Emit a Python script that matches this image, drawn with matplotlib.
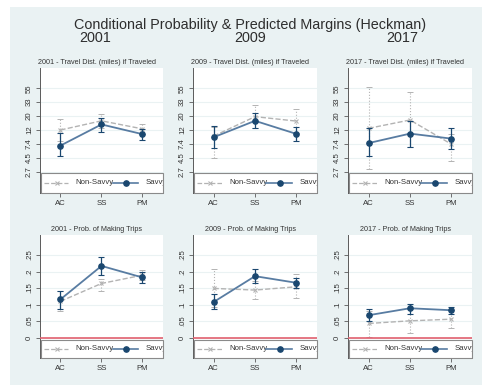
import numpy as np
import matplotlib
matplotlib.use("Agg")
import matplotlib.pyplot as plt
from matplotlib.patches import Rectangle

plt.rcParams['font.family'] = ['Liberation Sans', 'DejaVu Sans']

categories = ['AC', 'SS', 'PM']
years = ['2001', '2009', '2017']

# Top row: ln(travel distance, miles)
dist_savvy = {'2001': [1.94, 2.70, 2.35], '2009': [2.24, 2.83, 2.36], '2017': [2.03, 2.37, 2.19]}
dist_savvy_lo = {'2001': [1.56, 2.44, 2.14], '2009': [1.84, 2.56, 2.10], '2017': [1.55, 1.90, 1.80]}
dist_savvy_hi = {'2001': [2.38, 2.94, 2.54], '2009': [2.64, 3.12, 2.62], '2017': [2.56, 2.84, 2.56]}
dist_non = {'2001': [2.50, 2.83, 2.54], '2009': [2.28, 2.98, 2.82], '2017': [2.56, 2.86, 1.99]}
dist_non_lo = {'2001': [2.12, 2.58, 2.36], '2009': [1.48, 2.56, 2.40], '2017': [1.09, 1.88, 1.37]}
dist_non_hi = {'2001': [2.88, 3.08, 2.72], '2009': [2.62, 3.40, 3.24], '2017': [4.05, 3.86, 2.34]}
dist_ticks = [1, 1.5, 2, 2.5, 3, 3.5, 4]
dist_ticklabels = ['2.7', '4.5', '7.4', '12', '20', '33', '55']

# Bottom row: probability of making trips
prob_savvy = {'2001': [0.116, 0.217, 0.182], '2009': [0.108, 0.186, 0.166], '2017': [0.068, 0.089, 0.083]}
prob_savvy_lo = {'2001': [0.086, 0.189, 0.166], '2009': [0.086, 0.164, 0.149], '2017': [0.051, 0.073, 0.073]}
prob_savvy_hi = {'2001': [0.142, 0.244, 0.199], '2009': [0.132, 0.209, 0.181], '2017': [0.086, 0.101, 0.093]}
prob_non = {'2001': [0.110, 0.164, 0.189], '2009': [0.149, 0.144, 0.154], '2017': [0.043, 0.051, 0.056]}
prob_non_lo = {'2001': [0.080, 0.142, 0.174], '2009': [0.093, 0.116, 0.119], '2017': [0.003, 0.015, 0.028]}
prob_non_hi = {'2001': [0.140, 0.176, 0.206], '2009': [0.207, 0.170, 0.192], '2017': [0.080, 0.087, 0.084]}
prob_ticks = [0, 0.05, 0.1, 0.15, 0.2, 0.25]
prob_ticklabels = ['0', '.05', '.1', '.15', '.2', '.25']

BG = '#eaf2f3'
NAVY = '#1a476f'
STEEL = '#587ca2'
GREY = '#b3b3b3'
RED = '#e2606f'
AXC = '#5a5a5a'
TXT = '#333333'

W, H = 482, 386
fig = plt.figure(figsize=(W / 100, H / 100), dpi=100, facecolor='white')
fig.patches.append(Rectangle((10 / W, 1 - 385 / H), 472 / W, 378 / H,
                             transform=fig.transFigure, facecolor=BG,
                             edgecolor='none', zorder=-10))

def rect(x0, x1, y0, y1):
    return [x0 / W, 1 - y1 / H, (x1 - x0) / W, (y1 - y0) / H]

xcols = [(40, 163), (193, 317), (348, 472)]

def panel(ax, sv, svlo, svhi, ns, nslo, nshi, ylim, ticks, ticklabels, title, leg_h, zero_line):
    x = np.arange(1, len(categories) + 1)
    sv, svlo, svhi = map(np.array, (sv, svlo, svhi))
    ns, nslo, nshi = map(np.array, (ns, nslo, nshi))
    ax.set_facecolor('white')
    eb = ax.errorbar(x, ns, yerr=[ns - nslo, nshi - ns], fmt='none', ecolor=GREY,
                     elinewidth=0.8, capsize=2.5, capthick=0.7, zorder=2)
    eb[2][0].set_linestyle(':')
    ax.plot(x, ns, color=GREY, ls='--', lw=1.0, marker='x', ms=3.5, mew=0.8, zorder=3)
    ax.errorbar(x, sv, yerr=[sv - svlo, svhi - sv], fmt='none', ecolor=NAVY,
                elinewidth=0.9, capsize=2.5, capthick=0.8, zorder=4)
    ax.plot(x, sv, color=STEEL, lw=1.3, marker='o', ms=3.8, mfc=NAVY, mec=NAVY, zorder=5)
    if zero_line:
        ax.axhline(0, color=RED, lw=1.2, zorder=3)
    ax.set_xlim(0.5, 3.5)
    ax.set_ylim(*ylim)
    ax.set_xticks(x)
    ax.set_xticklabels(categories)
    ax.set_yticks(ticks)
    ax.set_yticklabels(ticklabels, rotation=90, va='center')
    ax.yaxis.grid(True, color=BG, lw=0.8)
    ax.set_axisbelow(True)
    for s in ('top', 'right'):
        ax.spines[s].set_visible(False)
    for s in ('left', 'bottom'):
        ax.spines[s].set_color(AXC)
        ax.spines[s].set_linewidth(0.7)
    ax.tick_params(axis='both', length=3, width=0.6, color=AXC, labelsize=5.6,
                   labelcolor=TXT, pad=2)
    ax.set_title(title, fontsize=5.2, color=TXT, pad=3, x=0.46)
    # legend box inside the plot region (clipped at right like the original)
    ax.add_patch(Rectangle((0.005, 0.0), 0.995, leg_h, transform=ax.transAxes,
                           facecolor='white', edgecolor='#8a8a8a', lw=0.8, zorder=6,
                           clip_on=False))
    yl = leg_h / 2
    ax.plot([0.03, 0.23], [yl, yl], transform=ax.transAxes, color=GREY, ls='--',
            lw=0.9, zorder=7, clip_on=False)
    ax.plot([0.136], [yl], transform=ax.transAxes, color=GREY, marker='x', ms=3.5,
            mew=0.8, zorder=7, clip_on=False)
    ax.text(0.29, yl, 'Non-Savvy', transform=ax.transAxes, fontsize=5.6,
            color=TXT, va='center', ha='left', zorder=7)
    ax.plot([0.59, 0.80], [yl, yl], transform=ax.transAxes, color=STEEL, lw=1.2,
            zorder=7, clip_on=False)
    ax.plot([0.70], [yl], transform=ax.transAxes, color=NAVY, marker='o', ms=3.8,
            zorder=7, clip_on=False)
    ax.text(0.86, yl, 'Savvy', transform=ax.transAxes, fontsize=5.6,
            color=TXT, va='center', ha='left', zorder=7, clip_on=True)

for i, yr in enumerate(years):
    x0, x1 = xcols[i]
    ax = fig.add_axes(rect(x0, x1, 68, 193))
    panel(ax, dist_savvy[yr], dist_savvy_lo[yr], dist_savvy_hi[yr],
          dist_non[yr], dist_non_lo[yr], dist_non_hi[yr],
          (0.234, 4.73), dist_ticks, dist_ticklabels,
          f'{yr} - Travel Dist. (miles) if Traveled', 20 / 125, False)
    ax = fig.add_axes(rect(x0, x1, 235, 358))
    panel(ax, prob_savvy[yr], prob_savvy_lo[yr], prob_savvy_hi[yr],
          prob_non[yr], prob_non_lo[yr], prob_non_hi[yr],
          (-0.0614, 0.3105), prob_ticks, prob_ticklabels,
          f'{yr} - Prob. of Making Trips', 18 / 123, True)

fig.text(250 / W, 1 - 24.5 / H, 'Conditional Probability & Predicted Margins (Heckman)',
         ha='center', va='center', fontsize=10.4, color='#2e2e2e')
for xc, yr in zip([95, 250, 402], years):
    fig.text(xc / W, 1 - 38.5 / H, yr, ha='center', va='center', fontsize=10.4,
             color='#2e2e2e')

fig.savefig('out.png', dpi=100, facecolor='white')
